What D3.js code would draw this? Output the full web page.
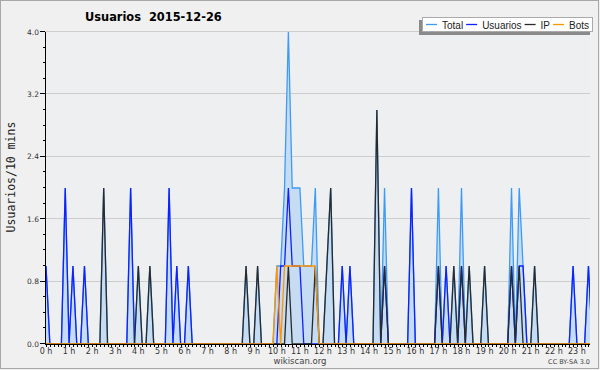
<!DOCTYPE html>
<html>
<head>
<meta charset="utf-8"/>
<title>Usuarios 2015-12-26</title>
<script src="https://d3js.org/d3.v7.min.js"></script>
<style>
  body { margin: 0; background: #f0f0f0; }
  svg { display: block; font-family: "DejaVu Sans", sans-serif; }
</style>
</head>
<body>
<div id="chart"></div>
<script>
// one value per 10 minutes, 12 values (2 hours) per row
var total = [
  1,0,0,0,0,2,0,1,0,0,1,0,
  0,0,0,2,0,0,0,0,0,0,2,0,
  1,0,0,1,0,0,0,0,2,0,1,0,
  0,1,0,0,0,0,0,0,0,0,0,0,
  0,0,0,0,1,0,0,1,0,0,0,0,
  1,1,2,4,2,2,2,1,1,1,2,0,
  0,1,2,0,0,1,0,1,0,0,0,0,
  0,0,3,0,2,0,0,0,0,0,0,2,
  0,0,0,0,0,0,2,0,1,0,1,0,
  2,0,1,0,0,0,1,0,0,0,0,0,
  0,2,0,2,1,0,0,1,0,0,0,0,
  0,0,0,0,0,1,0,0,0,1,0,0
];
var usuarios = [
  1,0,0,0,0,2,0,1,0,0,1,0,
  0,0,0,0,0,0,0,0,0,0,2,0,
  0,0,0,0,0,0,0,0,2,0,1,0,
  0,1,0,0,0,0,0,0,0,0,0,0,
  0,0,0,0,0,0,0,0,0,0,0,0,
  0,1,1,2,1,1,1,0,0,0,0,0,
  0,0,0,0,0,1,0,1,0,0,0,0,
  0,0,0,0,1,0,0,0,0,0,0,2,
  0,0,0,0,0,0,1,0,1,0,0,0,
  1,0,0,0,0,0,0,0,0,0,0,0,
  0,1,0,1,1,0,0,0,0,0,0,0,
  0,0,0,0,0,1,0,0,0,1,0,0
];
var ip = [
  0,0,0,0,0,0,0,0,0,0,0,0,
  0,0,0,2,0,0,0,0,0,0,0,0,
  1,0,0,1,0,0,0,0,0,0,0,0,
  0,0,0,0,0,0,0,0,0,0,0,0,
  0,0,0,0,1,0,0,1,0,0,0,0,
  0,0,0,1,0,0,0,0,0,0,1,0,
  0,1,2,0,0,0,0,0,0,0,0,0,
  0,0,3,0,1,0,0,0,0,0,0,0,
  0,0,0,0,0,0,1,0,0,0,1,0,
  1,0,1,0,0,0,1,0,0,0,0,0,
  0,1,0,1,0,0,0,1,0,0,0,0,
  0,0,0,0,0,0,0,0,0,0,0,0
];
var bots = [
  0,0,0,0,0,0,0,0,0,0,0,0,
  0,0,0,0,0,0,0,0,0,0,0,0,
  0,0,0,0,0,0,0,0,0,0,0,0,
  0,0,0,0,0,0,0,0,0,0,0,0,
  0,0,0,0,0,0,0,0,0,0,0,0,
  1,0,1,1,1,1,1,1,1,1,1,0,
  0,0,0,0,0,0,0,0,0,0,0,0,
  0,0,0,0,0,0,0,0,0,0,0,0,
  0,0,0,0,0,0,0,0,0,0,0,0,
  0,0,0,0,0,0,0,0,0,0,0,0,
  0,0,0,0,0,0,0,0,0,0,0,0,
  0,0,0,0,0,0,0,0,0,0,0,0
];
var hourLabels = ["0 h","1 h","2 h","3 h","4 h","5 h","6 h","7 h","8 h","9 h","10 h","11 h",
                  "12 h","13 h","14 h","15 h","16 h","17 h","18 h","19 h","20 h","21 h","22 h","23 h"];
var yTicks = [0, 0.8, 1.6, 2.4, 3.2, 4.0];
var seriesNames = ["Total", "Usuarios", "IP", "Bots"];
var seriesColors = ["#3d9bf5", "#1020ff", "#2a2a2a", "#ff9500"];

var width = 600, height = 370;
var pLeft = 45, pRight = 590, pTop = 32, pBottom = 344;

var svg = d3.select("#chart").append("svg")
    .attr("width", width)
    .attr("height", height);

svg.append("rect")
    .attr("x", 0.5).attr("y", 0.5)
    .attr("width", width - 2).attr("height", height - 2)
    .attr("fill", "#f0f0f0")
    .attr("stroke", "#a8a8a8");

svg.append("rect")
    .attr("x", pLeft).attr("y", pTop)
    .attr("width", pRight - pLeft).attr("height", pBottom - pTop)
    .attr("fill", "#eeeff1");

// 10 minute bins; the series run on past the right edge and get clipped
var x = d3.scaleLinear().domain([0, 144]).range([46, 600]);
var y = d3.scaleLinear().domain([0, 4]).range([pBottom, pTop]);

svg.append("clipPath").attr("id", "plot")
  .append("rect")
    .attr("x", pLeft).attr("y", pTop - 2)
    .attr("width", pRight - pLeft).attr("height", pBottom - pTop + 3);

// grid
svg.append("g").selectAll("line")
    .data(yTicks.slice(1))
    .enter().append("line")
    .attr("x1", pLeft).attr("x2", pRight)
    .attr("y1", function(d){ return Math.round(y(d)) - 0.5; })
    .attr("y2", function(d){ return Math.round(y(d)) - 0.5; })
    .attr("stroke", "#cdcdcd");

var g = svg.append("g").attr("clip-path", "url(#plot)");

g.append("path")
    .datum(total)
    .attr("fill", "#c6dcf2")
    .attr("d", d3.area()
        .x(function(d, i){ return x(i); })
        .y0(pBottom)
        .y1(function(d){ return y(d); }));

var lineGen = d3.line()
    .x(function(d, i){ return x(i); })
    .y(function(d){ return y(d); });

[total, usuarios, ip, bots].forEach(function(s, k){
    g.append("path")
        .datum(s)
        .attr("fill", "none")
        .attr("stroke", seriesColors[k])
        .attr("stroke-width", 1.3)
        .attr("d", lineGen);
});

// y axis
var yMinor = d3.range(0, 4.01, 0.2);
svg.append("line")
    .attr("x1", pLeft + 0.5).attr("x2", pLeft + 0.5)
    .attr("y1", pTop).attr("y2", pBottom + 1)
    .attr("stroke", "#000");
svg.append("g").selectAll("line")
    .data(yMinor)
    .enter().append("line")
    .attr("x1", function(d){ return (Math.round(d * 10) % 8 == 0) ? pLeft - 5 : pLeft - 2; })
    .attr("x2", pLeft)
    .attr("y1", function(d){ return Math.round(y(d)) - 0.5; })
    .attr("y2", function(d){ return Math.round(y(d)) - 0.5; })
    .attr("stroke", "#000");
svg.append("g").selectAll("text")
    .data(yTicks)
    .enter().append("text")
    .attr("x", pLeft - 6)
    .attr("y", function(d){ return y(d) + 2.5; })
    .attr("text-anchor", "end")
    .attr("font-size", "7.5px")
    .attr("fill", "#333")
    .text(function(d){ return d.toFixed(1); });

// x axis
svg.append("line")
    .attr("x1", pLeft).attr("x2", pRight)
    .attr("y1", pBottom + 0.5).attr("y2", pBottom + 0.5)
    .attr("stroke", "#000");
svg.append("g").selectAll("line")
    .data(d3.range(0, 142))
    .enter().append("line")
    .attr("x1", function(d){ return Math.round(x(d)) + 0.5; })
    .attr("x2", function(d){ return Math.round(x(d)) + 0.5; })
    .attr("y1", pBottom).attr("y2", pBottom + 3)
    .attr("stroke", "#000");
svg.append("g").selectAll("text")
    .data(hourLabels)
    .enter().append("text")
    .attr("x", function(d, i){ return x(i * 6); })
    .attr("y", 354)
    .attr("text-anchor", "middle")
    .attr("font-size", "8px")
    .attr("fill", "#333")
    .text(function(d){ return d; });

// titles
svg.append("text")
    .attr("x", 85).attr("y", 21)
    .attr("font-size", "11.4px")
    .attr("font-weight", "bold")
    .style("white-space", "pre")
    .text("Usuarios  2015-12-26");

svg.append("text")
    .attr("transform", "translate(15,177) rotate(-90)")
    .attr("text-anchor", "middle")
    .attr("font-family", "'DejaVu Sans Mono', monospace")
    .attr("font-size", "11.5px")
    .attr("fill", "#222")
    .text("Usuarios/10 mins");

svg.append("text")
    .attr("x", 300).attr("y", 364)
    .attr("text-anchor", "middle")
    .attr("font-size", "8.5px")
    .attr("fill", "#444")
    .text("wikiscan.org");

svg.append("text")
    .attr("x", 590).attr("y", 364)
    .attr("text-anchor", "end")
    .attr("font-size", "6.5px")
    .attr("fill", "#444")
    .text("CC BY-SA 3.0");

// legend
var lg = svg.append("g");
lg.append("rect")
    .attr("x", 419).attr("y", 20)
    .attr("width", 171).attr("height", 15)
    .attr("fill", "#8a8a8a");
lg.append("rect")
    .attr("x", 422.5).attr("y", 17.5)
    .attr("width", 170).attr("height", 14)
    .attr("fill", "#fff")
    .attr("stroke", "#aaa");
var lx = 426;
seriesNames.forEach(function(name, k){
    lg.append("line")
        .attr("x1", lx).attr("x2", lx + 11)
        .attr("y1", 24.5).attr("y2", 24.5)
        .attr("stroke", seriesColors[k])
        .attr("stroke-width", 1.3);
    var t = lg.append("text")
        .attr("x", lx + 16).attr("y", 28.5)
        .attr("font-family", "'Liberation Sans', Arial, sans-serif")
        .attr("font-size", "10px")
        .attr("fill", "#222")
        .text(name);
    lx = lx + 16 + t.node().getComputedTextLength() + 3;
});
</script>
</body>
</html>
